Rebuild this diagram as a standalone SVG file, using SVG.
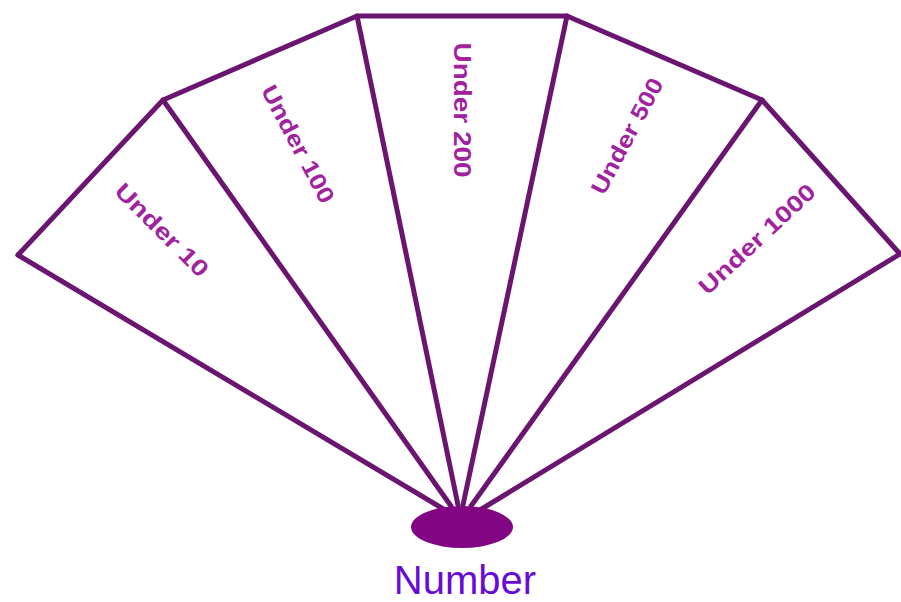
<svg xmlns="http://www.w3.org/2000/svg" width="901" height="602" viewBox="0 0 901 602">
<style>
.edge{stroke:#6a1670;stroke-width:5;fill:none;stroke-linecap:round;stroke-linejoin:round}
.lbl{font-family:"Liberation Sans",Arial,sans-serif;font-weight:bold;font-size:23px;fill:#a0229f;text-anchor:middle;dominant-baseline:central}
</style>
<rect width="901" height="602" fill="#ffffff"/>
<g id="connectors">
<polyline class="edge" points="18,255 163,100 357,16 567,16 762,100 900,254"/>
<line class="edge" x1="18" y1="255" x2="445" y2="510"/>
<line class="edge" x1="163" y1="100" x2="451" y2="506"/>
<line class="edge" x1="357" y1="16" x2="458" y2="505"/>
<line class="edge" x1="567" y1="16" x2="463" y2="505"/>
<line class="edge" x1="762" y1="100" x2="471" y2="506"/>
<line class="edge" x1="900" y1="254" x2="480" y2="510"/>
</g>
<g id="wedge-under10"><text class="lbl" x="162" y="230" textLength="122" lengthAdjust="spacingAndGlyphs" transform="rotate(45 162 230)">Under 10</text></g>
<g id="wedge-under100"><text class="lbl" x="298" y="144" textLength="130" lengthAdjust="spacingAndGlyphs" transform="rotate(62 298 144)">Under 100</text></g>
<g id="wedge-under200"><text class="lbl" x="462" y="110" textLength="135" lengthAdjust="spacingAndGlyphs" transform="rotate(90 462 110)">Under 200</text></g>
<g id="wedge-under500"><text class="lbl" x="627" y="136" textLength="128" lengthAdjust="spacingAndGlyphs" transform="rotate(-62 627 136)">Under 500</text></g>
<g id="wedge-under1000"><text class="lbl" x="757" y="239" textLength="150" lengthAdjust="spacingAndGlyphs" transform="rotate(-43 757 239)">Under 1000</text></g>
<g id="number">
<ellipse cx="462" cy="527" rx="51" ry="21" fill="#820683"/>
<text x="465" y="594" font-family="'Liberation Sans',Arial,sans-serif" font-size="40" fill="#6a0ad6" text-anchor="middle">Number</text>
</g>
</svg>
